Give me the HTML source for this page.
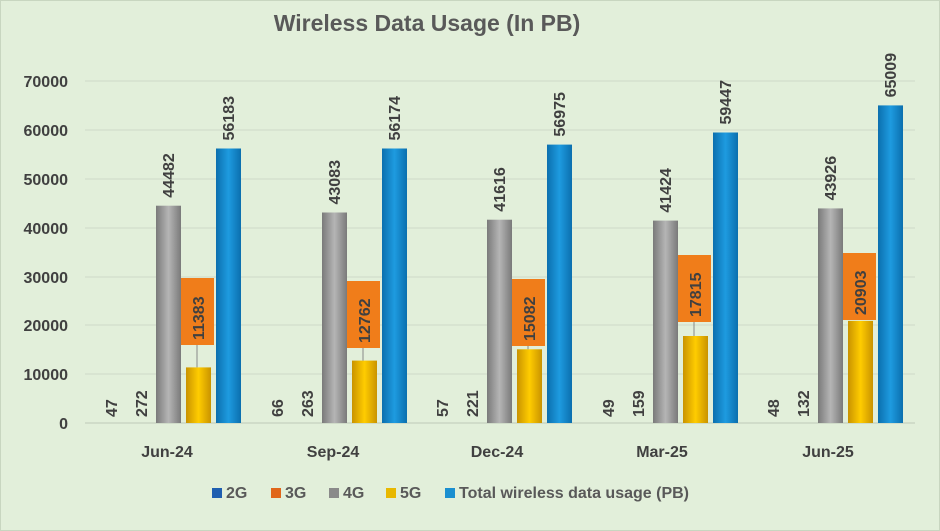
<!DOCTYPE html>
<html><head><style>
body{margin:0;background:#fff}
svg{display:block}
text{font-family:"Liberation Sans",sans-serif;font-weight:bold}
</style></head><body>
<svg width="940" height="531" viewBox="0 0 940 531" xmlns="http://www.w3.org/2000/svg">
<defs>
<linearGradient id="g4" x1="0" x2="1"><stop offset="0" stop-color="#7a7a7a"/><stop offset=".5" stop-color="#b5b5b5"/><stop offset="1" stop-color="#7a7a7a"/></linearGradient>
<linearGradient id="g5" x1="0" x2="1"><stop offset="0" stop-color="#c99300"/><stop offset=".5" stop-color="#ffcc00"/><stop offset="1" stop-color="#c99300"/></linearGradient>
<linearGradient id="gt" x1="0" x2="1"><stop offset="0" stop-color="#0b6fae"/><stop offset=".5" stop-color="#1e9be0"/><stop offset="1" stop-color="#0b6fae"/></linearGradient>
</defs>
<rect x="0" y="0" width="940" height="531" fill="#e2efda"/>
<rect x="0.5" y="0.5" width="939" height="530" fill="none" stroke="#c8d6c0"/>
<text x="427" y="31" text-anchor="middle" font-size="23" fill="#595959">Wireless Data Usage (In PB)</text>
<g stroke="#cfdac8" stroke-width="1">
<line x1="85" x2="915" y1="81" y2="81"/><line x1="85" x2="915" y1="130" y2="130"/><line x1="85" x2="915" y1="179" y2="179"/><line x1="85" x2="915" y1="228" y2="228"/><line x1="85" x2="915" y1="277" y2="277"/><line x1="85" x2="915" y1="325" y2="325"/><line x1="85" x2="915" y1="374" y2="374"/>
</g>
<line x1="85" x2="915" y1="423" y2="423" stroke="#bfc9b8"/>
<g font-size="16" fill="#404040" text-anchor="end">
<text x="68" y="87">70000</text><text x="68" y="136">60000</text><text x="68" y="185">50000</text><text x="68" y="234">40000</text><text x="68" y="283">30000</text><text x="68" y="331">20000</text><text x="68" y="380">10000</text><text x="68" y="429">0</text>
</g>

<g font-size="16" fill="#404040">
<!-- Group 1 -->
<text transform="translate(117,417) rotate(-90)">47</text>
<text transform="translate(147,417) rotate(-90)">272</text>
<rect x="156" y="205.7" width="25" height="217.3" fill="url(#g4)"/>
<rect x="186" y="367.4" width="25" height="55.6" fill="url(#g5)"/>
<rect x="216" y="148.5" width="25" height="274.5" fill="url(#gt)"/>
<text transform="translate(174,197.7) rotate(-90)">44482</text>
<text transform="translate(234,140.5) rotate(-90)">56183</text>
<line x1="197" x2="197" y1="345" y2="367.4" stroke="#888"/>
<rect x="181" y="278" width="33" height="67" fill="#f07d1a"/>
<text transform="translate(204,340) rotate(-90)">11383</text>

<!-- Group 2 -->
<text transform="translate(283,417) rotate(-90)">66</text>
<text transform="translate(313,417) rotate(-90)">263</text>
<rect x="322" y="212.5" width="25" height="210.5" fill="url(#g4)"/>
<rect x="352" y="360.6" width="25" height="62.4" fill="url(#g5)"/>
<rect x="382" y="148.5" width="25" height="274.5" fill="url(#gt)"/>
<text transform="translate(340,204.5) rotate(-90)">43083</text>
<text transform="translate(400,140.5) rotate(-90)">56174</text>
<line x1="363" x2="363" y1="348" y2="360.6" stroke="#888"/>
<rect x="347" y="281" width="33" height="67" fill="#f07d1a"/>
<text transform="translate(370,343) rotate(-90)">12762</text>

<!-- Group 3 -->
<text transform="translate(448,417) rotate(-90)">57</text>
<text transform="translate(478,417) rotate(-90)">221</text>
<rect x="487" y="219.7" width="25" height="203.3" fill="url(#g4)"/>
<rect x="517" y="349.3" width="25" height="73.7" fill="url(#g5)"/>
<rect x="547" y="144.6" width="25" height="278.4" fill="url(#gt)"/>
<text transform="translate(505,211.7) rotate(-90)">41616</text>
<text transform="translate(565,136.6) rotate(-90)">56975</text>
<line x1="528" x2="528" y1="346" y2="349.3" stroke="#888"/>
<rect x="512" y="279" width="33" height="67" fill="#f07d1a"/>
<text transform="translate(535,341) rotate(-90)">15082</text>

<!-- Group 4 -->
<text transform="translate(614,417) rotate(-90)">49</text>
<text transform="translate(644,417) rotate(-90)">159</text>
<rect x="653" y="220.6" width="25" height="202.4" fill="url(#g4)"/>
<rect x="683" y="336" width="25" height="87" fill="url(#g5)"/>
<rect x="713" y="132.5" width="25" height="290.5" fill="url(#gt)"/>
<text transform="translate(671,212.6) rotate(-90)">41424</text>
<text transform="translate(731,124.5) rotate(-90)">59447</text>
<line x1="694" x2="694" y1="322" y2="336" stroke="#888"/>
<rect x="678" y="255" width="33" height="67" fill="#f07d1a"/>
<text transform="translate(701,317) rotate(-90)">17815</text>

<!-- Group 5 -->
<text transform="translate(779,417) rotate(-90)">48</text>
<text transform="translate(809,417) rotate(-90)">132</text>
<rect x="818" y="208.4" width="25" height="214.6" fill="url(#g4)"/>
<rect x="848" y="320.9" width="25" height="102.1" fill="url(#g5)"/>
<rect x="878" y="105.4" width="25" height="317.6" fill="url(#gt)"/>
<text transform="translate(836,200.4) rotate(-90)">43926</text>
<text transform="translate(896,97.4) rotate(-90)">65009</text>
<rect x="843" y="253" width="33" height="67" fill="#f07d1a"/>
<text transform="translate(866,315) rotate(-90)">20903</text>
</g>

<g font-size="16" fill="#404040" text-anchor="middle">
<text x="167" y="457">Jun-24</text><text x="333" y="457">Sep-24</text><text x="497" y="457">Dec-24</text><text x="662" y="457">Mar-25</text><text x="828" y="457">Jun-25</text>
</g>
<g font-size="16" fill="#595959">
<rect x="212" y="488" width="10" height="10" fill="#1f5fb0"/><text x="226" y="498">2G</text>
<rect x="271" y="488" width="10" height="10" fill="#e0661a"/><text x="285" y="498">3G</text>
<rect x="329" y="488" width="10" height="10" fill="#8a8a8a"/><text x="343" y="498">4G</text>
<rect x="386" y="488" width="10" height="10" fill="#e8b800"/><text x="400" y="498">5G</text>
<rect x="445" y="488" width="10" height="10" fill="#1a8fd0"/><text x="459" y="498">Total wireless data usage (PB)</text>
</g>
</svg>
</body></html>
